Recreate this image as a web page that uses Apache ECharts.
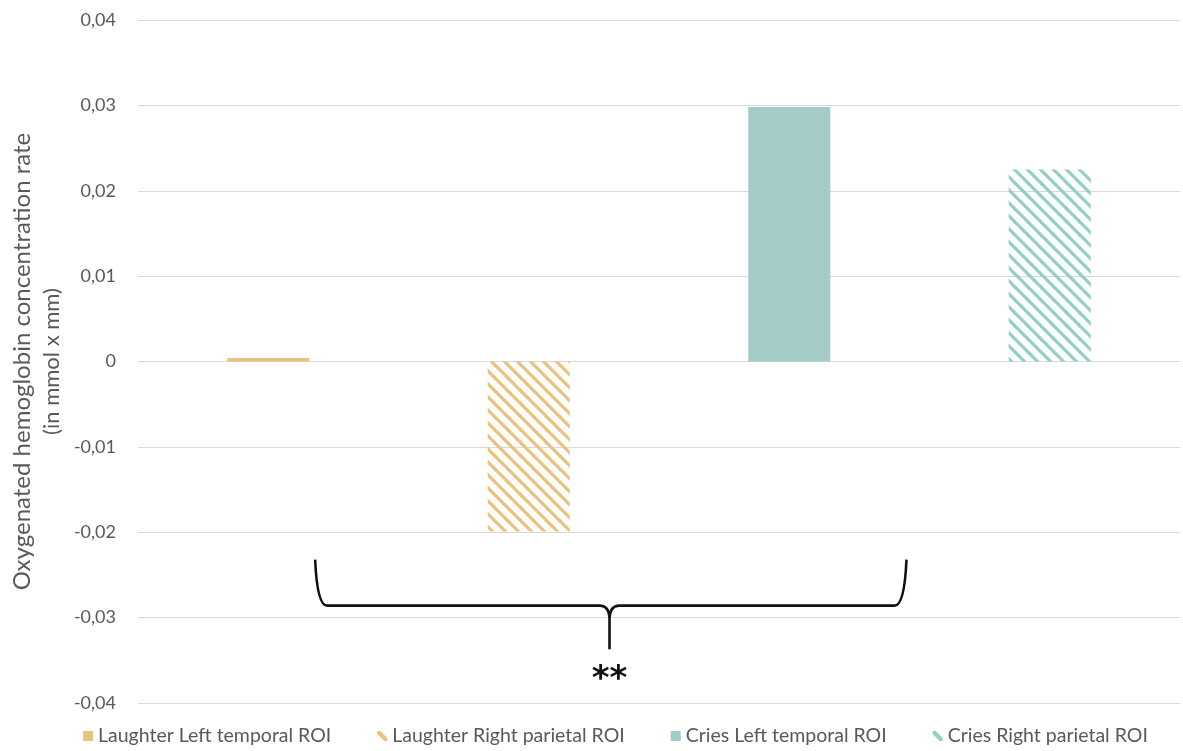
<!DOCTYPE html>
<html>
<head>
<meta charset="utf-8">
<script src="https://cdn.jsdelivr.net/npm/echarts@6/dist/echarts.min.js"></script>
<style>html,body{margin:0;padding:0;background:#fff;}#c{width:1183px;height:751px;}</style>
</head>
<body>
<div id="c"></div>
<script>
const categories = ['Laughter Left temporal ROI', 'Laughter Right parietal ROI', 'Cries Left temporal ROI', 'Cries Right parietal ROI'];
const values = [0.0004, -0.0199, 0.0298, 0.0225];
const yTicks = [-0.04, -0.03, -0.02, -0.01, 0, 0.01, 0.02, 0.03, 0.04];
const significance = '**';

const ORANGE = '#E9C27D';
const TEAL = '#A3CCC8';
const TEAL_STRIPE = '#93CFC5';
const FONT = 'Lato';

function stripes(color) {
  const s = 13;
  const c = document.createElement('canvas');
  c.width = s; c.height = s;
  const ctx = c.getContext('2d');
  ctx.strokeStyle = color;
  ctx.lineWidth = 3.2;
  for (let k = -1; k <= 1; k++) {
    ctx.beginPath();
    ctx.moveTo(-1, k * s - 1);
    ctx.lineTo(s + 1, s + k * s + 1);
    ctx.stroke();
  }
  return { image: c, repeat: 'repeat' };
}

const fills = [ORANGE, stripes(ORANGE), TEAL, stripes(TEAL_STRIPE)];
const legendColors = [ORANGE, ORANGE, TEAL, TEAL_STRIPE];
const hatched = [false, true, false, true];
const slashIcon = 'path://M0,0 L3,0 L10,7 L10,10 L7,10 L0,3 Z';

const series = categories.map((name, i) => ({
  name: name,
  type: 'bar',
  stack: 'all',
  barWidth: '31.5%',
  data: categories.map((c, j) => (j === i ? values[i] : null)),
  itemStyle: { color: fills[i] },
  emphasis: { disabled: true }
}));

// brace annotation (uses a hidden value x axis spanning the category slots)
series.push({
  type: 'custom',
  name: 'brace',
  xAxisIndex: 1,
  yAxisIndex: 0,
  clip: false,
  silent: true,
  data: [[0]],
  renderItem: function (params, api) {
    const L = api.coord([0.18, -0.0232]);
    const R = api.coord([2.45, -0.0232]);
    const yb = api.coord([0, -0.0286])[1];
    const M = api.coord([1.31, -0.0337]);
    const ys = api.coord([0, -0.0368])[1];
    const r = 10;
    const p = [
      'M', L[0], L[1],
      'Q', L[0] + 2, yb, L[0] + r + 2, yb,
      'L', M[0] - r, yb,
      'Q', M[0], yb, M[0], yb + r + 4,
      'L', M[0], M[1],
      'M', M[0], yb + r + 4,
      'Q', M[0], yb, M[0] + r, yb,
      'L', R[0] - r - 2, yb,
      'Q', R[0] - 2, yb, R[0], R[1]
    ].join(' ');
    return {
      type: 'group',
      children: [
        { type: 'path', shape: { pathData: p }, style: { fill: null, stroke: '#111', lineWidth: 2.6 } },
        { type: 'text', x: M[0], y: ys + 4, style: { text: significance, fill: '#111', font: 'bold 34px "DejaVu Sans"', textAlign: 'center', textVerticalAlign: 'middle' } }
      ]
    };
  }
});

const chart = echarts.init(document.getElementById('c'));
chart.setOption({
  animation: false,
  backgroundColor: '#fff',
  grid: { left: 138, right: 3, top: 20, bottom: 48, containLabel: false },
  legend: {
    bottom: 5,
    left: 83,
    padding: 0,
    itemWidth: 10,
    itemHeight: 10,
    itemGap: 46,
    textStyle: { fontFamily: FONT, fontSize: 19.5, color: '#595959', padding: [0, 0, 0, 0] },
    data: categories.map((n, i) => ({
      name: n,
      icon: hatched[i] ? slashIcon : 'rect',
      itemStyle: { color: legendColors[i] }
    }))
  },
  xAxis: [{
    type: 'category',
    data: categories,
    axisLine: { show: false },
    axisTick: { show: false },
    axisLabel: { show: false },
    splitLine: { show: false }
  }, {
    type: 'value',
    min: -0.5,
    max: 3.5,
    show: false
  }],
  yAxis: {
    type: 'value',
    min: yTicks[0],
    max: yTicks[yTicks.length - 1],
    interval: 0.01,
    name: '{a|Oxygenated hemoglobin concentration rate}\n{b|(in mmol x mm)}',
    nameLocation: 'middle',
    nameRotate: 90,
    nameGap: 70,
    nameTextStyle: {
      fontFamily: FONT,
      fontSize: 24,
      color: '#595959',
      rich: {
        a: { fontFamily: FONT, fontSize: 24, color: '#595959', lineHeight: 30, align: 'center' },
        b: { fontFamily: FONT, fontSize: 22, color: '#595959', lineHeight: 30, align: 'center' }
      }
    },
    axisLine: { show: false },
    axisTick: { show: false },
    axisLabel: {
      margin: 22,
      fontFamily: FONT,
      fontSize: 18,
      color: '#595959',
      formatter: v => (Math.abs(v) < 1e-9 ? '0' : v.toFixed(2).replace('.', ','))
    },
    splitLine: { lineStyle: { color: '#D9D9D9', width: 1 } }
  },
  series: series
});
</script>
</body>
</html>
